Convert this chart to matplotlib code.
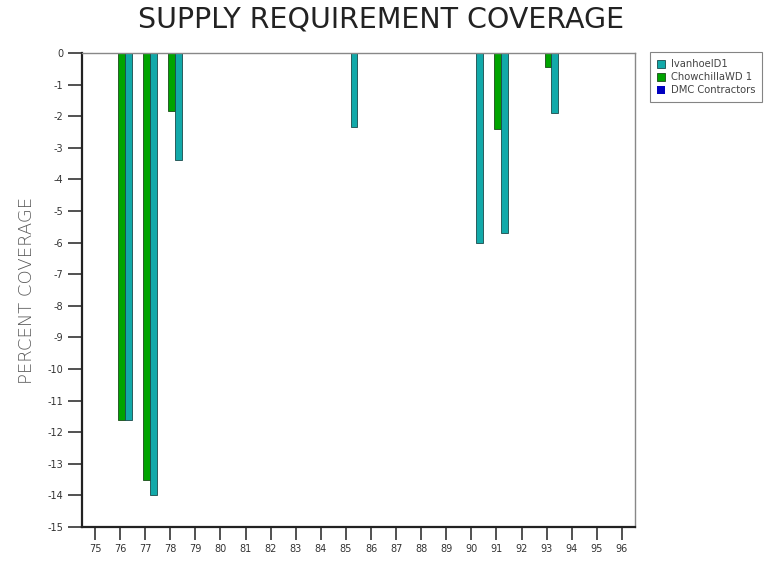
import matplotlib.pyplot as plt
import numpy as np

plt.rcParams['axes.unicode_minus'] = False

# Data (percent coverage by water year)
years = list(range(75, 97))
year_labels = [f'{y:02d}' for y in years]

ivanhoe = [0, -11.6, -14.0, -3.4, 0, 0, 0, 0, 0, 0, -2.35, 0, 0, 0, 0,
           -6.0, -5.7, 0, -1.9, 0, 0, 0]
chowchilla = [0, -11.6, -13.5, -1.85, 0, 0, 0, 0, 0, 0, 0, 0, 0, 0, 0,
              0, -2.4, 0, -0.45, 0, 0, 0]
dmc = [0] * len(years)

fig = plt.figure(figsize=(7.69, 5.61), dpi=100)
ax = fig.add_axes([0.1066, 0.0606, 0.7191, 0.8449])

x = np.array(years, dtype=float)
w = 0.27
ax.bar(x + 0.05, chowchilla, w, color='#00a400', edgecolor='#1a4a1a', linewidth=0.6,
       label='ChowchillaWD 1', zorder=2)
ax.bar(x + 0.32, ivanhoe, w, color='#12a9a9', edgecolor='#1a4a4a', linewidth=0.6,
       label='IvanhoeID1', zorder=2)
ax.bar(x + 0.59, dmc, w, color='#0000c0', label='DMC Contractors', zorder=2)

ax.set_xlim(74.48, 96.52)
ax.set_ylim(-15, 0)
ax.set_xticks(years)
ax.set_xticklabels(year_labels)
ax.set_yticks(range(-15, 1))
ax.tick_params(axis='both', labelsize=7, colors='#333333', length=10, width=1.2)
ax.tick_params(axis='x', length=9, pad=3)

for s in ['left', 'bottom']:
    ax.spines[s].set_color('#222222')
    ax.spines[s].set_linewidth(1.6)
for s in ['right', 'top']:
    ax.spines[s].set_color('#888888')
    ax.spines[s].set_linewidth(1.0)

ax.set_ylabel('PERCENT COVERAGE', fontsize=13, color='#5a5a5a', fontweight='light')
ax.yaxis.set_label_coords(-0.083, 0.5)
fig.suptitle('SUPPLY REQUIREMENT COVERAGE', x=0.495, y=0.99, fontsize=20.5,
             color='#222222')

handles, labels = ax.get_legend_handles_labels()
order = [1, 0, 2]
leg = fig.legend([handles[i] for i in order], [labels[i] for i in order],
                 loc='upper left', bbox_to_anchor=(0.845, 0.907), fontsize=7.2,
                 frameon=True, fancybox=False, edgecolor='#666666',
                 handlelength=0.8, handleheight=0.8, handletextpad=0.6,
                 borderpad=0.7, labelspacing=0.3, borderaxespad=0)
leg.get_frame().set_linewidth(0.8)
for t in leg.get_texts():
    t.set_color('#444444')

fig.savefig('out.png', dpi=100)
